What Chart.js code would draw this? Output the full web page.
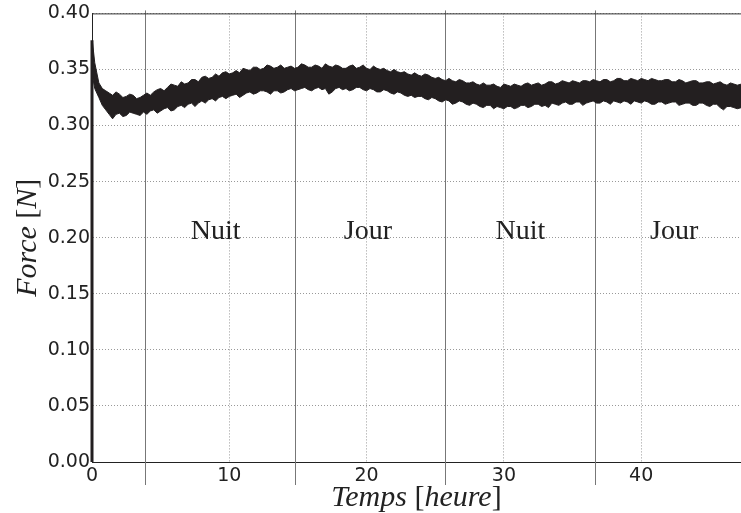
<!DOCTYPE html>
<html>
<head>
<meta charset="utf-8">
<script src="https://cdn.jsdelivr.net/npm/chart.js@4.4.1/dist/chart.umd.min.js"></script>
<style>
  html, body { margin: 0; padding: 0; background: #fff; overflow: hidden; }
  #force-chart { display: block; }
</style>
</head>
<body>
<canvas id="force-chart" width="741" height="513"></canvas>
<script>
// time in hours, one row per hour (quarter-hour samples)
const hours = [
  0, 0.02, 0.2, 0.5, 0.75,
  1, 1.25, 1.5, 1.75, 2, 2.25, 2.5, 2.75, 3, 3.25, 3.5, 3.75,
  4, 4.25, 4.5, 4.75, 5, 5.25, 5.5, 5.75, 6, 6.25, 6.5, 6.75,
  7, 7.25, 7.5, 7.75, 8, 8.25, 8.5, 8.75, 9, 9.25, 9.5, 9.75,
  10, 10.25, 10.5, 10.75, 11, 11.25, 11.5, 11.75, 12, 12.25, 12.5, 12.75,
  13, 13.25, 13.5, 13.75, 14, 14.25, 14.5, 14.75, 15, 15.25, 15.5, 15.75,
  16, 16.25, 16.5, 16.75, 17, 17.25, 17.5, 17.75, 18, 18.25, 18.5, 18.75,
  19, 19.25, 19.5, 19.75, 20, 20.25, 20.5, 20.75, 21, 21.25, 21.5, 21.75,
  22, 22.25, 22.5, 22.75, 23, 23.25, 23.5, 23.75, 24, 24.25, 24.5, 24.75,
  25, 25.25, 25.5, 25.75, 26, 26.25, 26.5, 26.75, 27, 27.25, 27.5, 27.75,
  28, 28.25, 28.5, 28.75, 29, 29.25, 29.5, 29.75, 30, 30.25, 30.5, 30.75,
  31, 31.25, 31.5, 31.75, 32, 32.25, 32.5, 32.75, 33, 33.25, 33.5, 33.75,
  34, 34.25, 34.5, 34.75, 35, 35.25, 35.5, 35.75, 36, 36.25, 36.5, 36.75,
  37, 37.25, 37.5, 37.75, 38, 38.25, 38.5, 38.75, 39, 39.25, 39.5, 39.75,
  40, 40.25, 40.5, 40.75, 41, 41.25, 41.5, 41.75, 42, 42.25, 42.5, 42.75,
  43, 43.25, 43.5, 43.75, 44, 44.25, 44.5, 44.75, 45, 45.25, 45.5, 45.75,
  46, 46.25, 46.5, 46.75,
  47, 47.3,
];

// upper edge of the noisy force band [N]
const forceUpper = [
  0, 0.376, 0.356, 0.338, 0.333,
  0.331, 0.329, 0.327, 0.330, 0.328, 0.325, 0.326, 0.328, 0.327, 0.324, 0.325, 0.327,
  0.329, 0.327, 0.330, 0.332, 0.333, 0.331, 0.334, 0.337, 0.336, 0.335, 0.339, 0.337,
  0.338, 0.341, 0.341, 0.339, 0.343, 0.344, 0.342, 0.343, 0.346, 0.344, 0.347, 0.348,
  0.346, 0.347, 0.349, 0.347, 0.351, 0.350, 0.349, 0.352, 0.352, 0.350, 0.351, 0.354,
  0.353, 0.351, 0.352, 0.354, 0.351, 0.352, 0.353, 0.351, 0.352, 0.355, 0.354, 0.352,
  0.352, 0.354, 0.353, 0.351, 0.355, 0.353, 0.352, 0.354, 0.353, 0.351, 0.351, 0.353,
  0.354, 0.351, 0.352, 0.354, 0.351, 0.350, 0.353, 0.351, 0.350, 0.351, 0.349, 0.348,
  0.350, 0.348, 0.347, 0.348, 0.346, 0.345, 0.347, 0.345, 0.344, 0.346, 0.345, 0.343,
  0.342, 0.343, 0.341, 0.340, 0.342, 0.340, 0.339, 0.341, 0.340, 0.338, 0.338, 0.339,
  0.337, 0.336, 0.338, 0.336, 0.336, 0.337, 0.335, 0.334, 0.337, 0.336, 0.335, 0.337,
  0.336, 0.335, 0.337, 0.338, 0.336, 0.337, 0.338, 0.336, 0.337, 0.339, 0.339, 0.337,
  0.338, 0.340, 0.339, 0.338, 0.340, 0.339, 0.338, 0.340, 0.340, 0.339, 0.341, 0.340,
  0.339, 0.341, 0.341, 0.339, 0.340, 0.342, 0.342, 0.340, 0.340, 0.342, 0.341, 0.340,
  0.342, 0.341, 0.340, 0.342, 0.341, 0.340, 0.340, 0.341, 0.341, 0.339, 0.339, 0.341,
  0.340, 0.338, 0.339, 0.340, 0.340, 0.338, 0.338, 0.339, 0.339, 0.337, 0.338, 0.339,
  0.337, 0.336, 0.338, 0.337,
  0.336, 0.337,
];

// lower edge of the noisy force band [N]
const forceLower = [
  0, 0.345, 0.333, 0.325, 0.318,
  0.314, 0.310, 0.306, 0.310, 0.311, 0.308, 0.309, 0.312, 0.311, 0.310, 0.309, 0.312,
  0.310, 0.313, 0.314, 0.311, 0.313, 0.315, 0.316, 0.313, 0.314, 0.317, 0.318, 0.316,
  0.319, 0.320, 0.317, 0.320, 0.322, 0.320, 0.323, 0.324, 0.322, 0.325, 0.326, 0.324,
  0.326, 0.327, 0.328, 0.325, 0.327, 0.329, 0.330, 0.328, 0.329, 0.331, 0.331, 0.330,
  0.328, 0.331, 0.331, 0.329, 0.330, 0.332, 0.333, 0.331, 0.332, 0.333, 0.334, 0.332,
  0.331, 0.333, 0.334, 0.332, 0.333, 0.328, 0.330, 0.333, 0.334, 0.332, 0.333, 0.331,
  0.332, 0.334, 0.334, 0.332, 0.331, 0.333, 0.332, 0.330, 0.330, 0.332, 0.331, 0.329,
  0.328, 0.330, 0.329, 0.327, 0.326, 0.327, 0.325, 0.326, 0.326, 0.324, 0.323, 0.325,
  0.324, 0.322, 0.321, 0.323, 0.322, 0.319, 0.320, 0.322, 0.321, 0.319, 0.318, 0.320,
  0.319, 0.317, 0.316, 0.318, 0.318, 0.315, 0.317, 0.316, 0.315, 0.317, 0.317, 0.315,
  0.316, 0.318, 0.318, 0.316, 0.317, 0.319, 0.319, 0.317, 0.318, 0.316, 0.320, 0.319,
  0.318, 0.320, 0.321, 0.319, 0.319, 0.321, 0.321, 0.318, 0.320, 0.321, 0.322, 0.320,
  0.320, 0.322, 0.321, 0.319, 0.322, 0.321, 0.320, 0.322, 0.321, 0.319, 0.322, 0.321,
  0.320, 0.322, 0.321, 0.319, 0.319, 0.321, 0.321, 0.319, 0.320, 0.321, 0.321, 0.318,
  0.319, 0.320, 0.320, 0.318, 0.318, 0.320, 0.320, 0.318, 0.317, 0.319, 0.319, 0.316,
  0.314, 0.317, 0.317, 0.316,
  0.315, 0.316,
];

// the sensor jumps from zero at switch-on
const startHours = [0, 0];
const startForce = [0, 0.376];

const xTicks = [0, 10, 20, 30, 40];
const yTicks = [0, 0.05, 0.10, 0.15, 0.20, 0.25, 0.30, 0.35, 0.40];

// day / night changes (solid vertical lines) and their labels
const periodBounds = [3.85, 14.76, 25.69, 36.61];
const periodLabels = ['Nuit', 'Jour', 'Nuit', 'Jour'];
const periodLabelHours = [9.0, 20.1, 31.2, 42.4];
const periodLabelForce = 0.20;

const bandColor = '#231f20';
const textColor = '#222';
const gridColor = '#999';
const tickFont = { family: "'DejaVu Sans', sans-serif", size: 19 };
const serif = "'Liberation Serif', 'DejaVu Serif', serif";

function drawMixed(ctx, parts, size) {
  // parts: [text, style] pairs, drawn centered on 0
  const widths = parts.map(([txt, style]) => {
    ctx.font = `${style} ${size}px ${serif}`;
    return ctx.measureText(txt).width;
  });
  let x = -widths.reduce((a, b) => a + b, 0) / 2;
  parts.forEach(([txt, style], i) => {
    ctx.font = `${style} ${size}px ${serif}`;
    ctx.fillText(txt, x, 0);
    x += widths[i];
  });
}

const decorations = {
  id: 'decorations',
  beforeDatasetsDraw(chart) {
    const { ctx, chartArea, scales } = chart;
    ctx.save();
    ctx.strokeStyle = '#777';
    ctx.lineWidth = 1;
    periodBounds.forEach((h) => {
      const x = Math.round(scales.x.getPixelForValue(h)) + 0.5;
      ctx.beginPath();
      ctx.moveTo(x, chartArea.top - 3);
      ctx.lineTo(x, chartArea.bottom + 23);
      ctx.stroke();
    });
    // top spine
    ctx.strokeStyle = '#333';
    ctx.beginPath();
    ctx.moveTo(chartArea.left, chartArea.top + 0.5);
    ctx.lineTo(chartArea.right, chartArea.top + 0.5);
    ctx.stroke();
    ctx.restore();
  },
  afterDraw(chart) {
    const { ctx, chartArea, scales } = chart;
    ctx.save();
    ctx.fillStyle = textColor;
    ctx.textBaseline = 'alphabetic';
    ctx.textAlign = 'left';
    periodLabels.forEach((label, i) => {
      const x = scales.x.getPixelForValue(periodLabelHours[i]);
      const y = scales.y.getPixelForValue(periodLabelForce) + 1;
      ctx.save();
      ctx.translate(x, y);
      drawMixed(ctx, [[label, 'normal']], 28);
      ctx.restore();
    });

    ctx.save();
    ctx.translate((chartArea.left + chartArea.right) / 2, 506);
    drawMixed(ctx, [['Temps', 'italic'], [' [', 'normal'], ['heure', 'italic'], [']', 'normal']], 30);
    ctx.restore();

    ctx.save();
    ctx.translate(36, (chartArea.top + chartArea.bottom) / 2);
    ctx.rotate(-Math.PI / 2);
    drawMixed(ctx, [['Force', 'italic'], [' [', 'normal'], ['N', 'italic'], [']', 'normal']], 30);
    ctx.restore();
    ctx.restore();
  },
};

const data = {
  datasets: [
    {
      label: 'upper',
      data: hours.map((h, i) => ({ x: h, y: forceUpper[i] })),
      borderColor: bandColor,
      borderWidth: 1,
      fill: false,
      tension: 0,
    },
    {
      label: 'lower',
      data: hours.map((h, i) => ({ x: h, y: forceLower[i] })),
      borderColor: bandColor,
      backgroundColor: bandColor,
      borderWidth: 1,
      fill: '-1',
      tension: 0,
    },
    {
      label: 'start',
      data: startHours.map((h, i) => ({ x: h, y: startForce[i] })),
      borderColor: bandColor,
      borderWidth: 3,
      fill: false,
      clip: false,
    },
  ],
};

const config = {
  type: 'line',
  data,
  options: {
    animation: false,
    responsive: false,
    devicePixelRatio: 1,
    layout: { padding: { top: 13, right: 0, left: 0, bottom: 0 } },
    elements: { point: { radius: 0, hoverRadius: 0 } },
    plugins: {
      legend: { display: false },
      tooltip: { enabled: false },
    },
    scales: {
      x: {
        type: 'linear',
        min: 0,
        max: 47.27,
        afterBuildTicks: (scale) => { scale.ticks = xTicks.map((v) => ({ value: v })); },
        afterFit: (scale) => { scale.height = 51; },
        grid: { color: gridColor, drawTicks: false },
        border: { color: '#222', width: 1, dash: [1, 2] },
        ticks: {
          color: textColor,
          font: tickFont,
          padding: 3,
          maxRotation: 0,
          autoSkip: false,
        },
      },
      y: {
        min: 0,
        max: 0.4,
        afterBuildTicks: (scale) => { scale.ticks = yTicks.map((v) => ({ value: v })); },
        afterFit: (scale) => { scale.width = 92; },
        grid: { color: gridColor, drawTicks: false },
        border: { color: '#222', width: 1, dash: [1, 2] },
        ticks: {
          color: textColor,
          font: tickFont,
          padding: 2,
          callback: (value) => value.toFixed(2),
        },
      },
    },
  },
  plugins: [decorations],
};

const forceChart = new Chart(document.getElementById('force-chart'), config);
</script>
</body>
</html>
